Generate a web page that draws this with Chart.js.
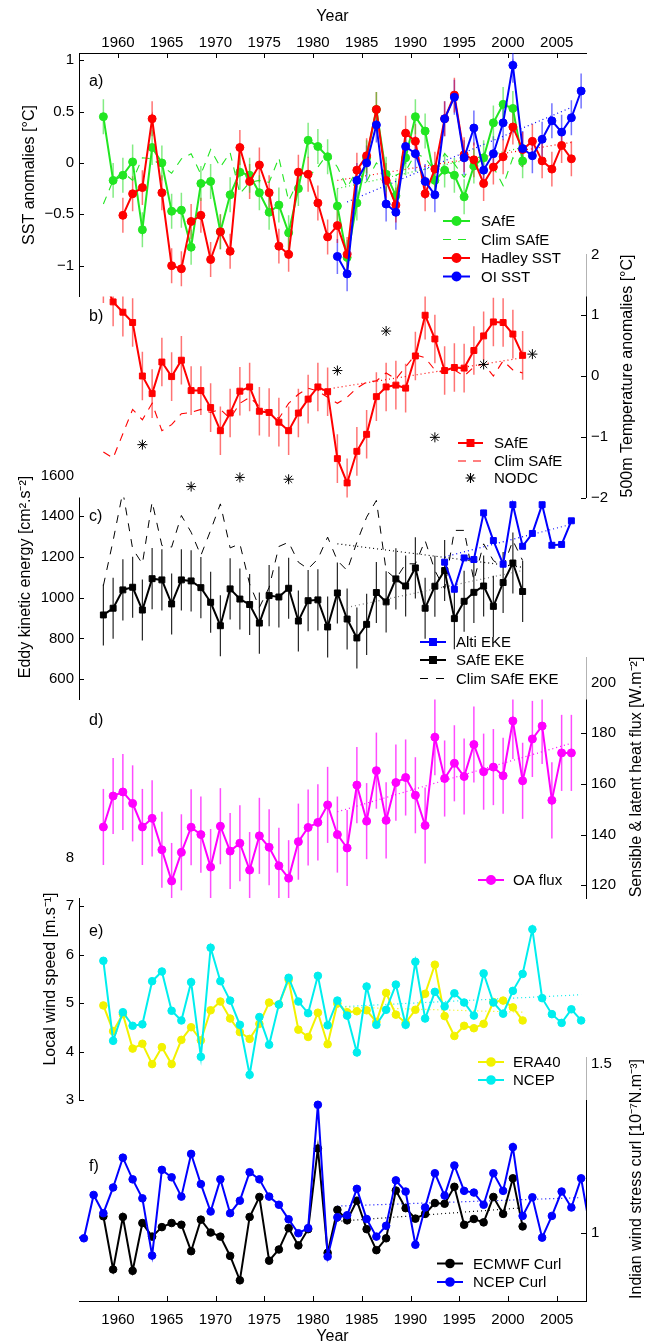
<!DOCTYPE html>
<html>
<head>
<meta charset="utf-8">
<script src="https://cdn.jsdelivr.net/npm/chart.js@4.4.1/dist/chart.umd.min.js"></script>
<style>
  html, body { margin: 0; padding: 0; background: #fff; overflow: hidden; }
  #wrap { position: relative; width: 654px; height: 1343px; }
  #wrap canvas { position: absolute; left: 0; top: 0; }
</style>
</head>
<body>
<div id="wrap"></div>
<script>
// ---- data (annual values, plotted at mid-year) ----
var xTicks = [1960, 1965, 1970, 1975, 1980, 1985, 1990, 1995, 2000, 2005];

// a) SST anomalies
var sstSafe = [0.45, -0.17, -0.12, 0.01, -0.65, 0.15, 0.0, -0.47, -0.46, -0.82, -0.2, -0.18, -0.67, -0.31, -0.09, -0.12, -0.29, -0.48, -0.41, -0.68, -0.25, 0.22, 0.16, 0.06, -0.42, -0.92, -0.39, 0.05, 0.52, -0.11, -0.32, 0.05, 0.45, 0.31, -0.17, -0.07, -0.12, -0.33, -0.03, 0.05, 0.39, 0.57, 0.53, 0.02];
var sstClim = [-0.4, -0.17, -0.09, -0.17, 0.05, 0.04, -0.03, -0.1, 0.04, 0.09, -0.11, 0.13, -0.04, 0.1, -0.3, -0.19, -0.17, -0.19, 0.05, -0.37, -0.17, -0.14, -0.04, 0.09, -0.04, -0.24, -0.07, -0.18, 0.0, -0.1, -0.12, -0.08, 0.09, 0.05, -0.08, 0.09, -0.01, -0.14, 0.02, 0.05, -0.04, -0.22, 0.05, -0.04];
var sstHadley = [-0.51, -0.3, -0.24, 0.43, -0.29, -1.0, -1.03, -0.57, -0.51, -0.94, -0.67, -0.86, 0.15, -0.18, -0.02, -0.29, -0.81, -0.89, -0.09, -0.11, -0.39, -0.72, -0.61, -0.89, -0.07, 0.07, 0.52, -0.17, -0.41, 0.29, 0.21, -0.3, -0.06, 0.43, 0.66, 0.08, 0.03, -0.2, -0.04, 0.06, 0.35, 0.13, 0.21, 0.02, -0.06, 0.17, 0.04];
var sstOi = [-0.91, -1.08, -0.17, 0.0, 0.37, -0.4, -0.48, 0.16, 0.09, -0.18, -0.31, 0.43, 0.64, 0.05, 0.34, -0.07, 0.09, 0.39, 0.95, 0.14, 0.07, 0.23, 0.41, 0.3, 0.44, 0.7];
var sstErr = 0.17;
var trendSafeA = [[1982.5, -0.25], [2001.5, 0.15]];
var trendHadley = [[1982.5, -0.17], [2006.5, 0.2]];
var trendOi = [[1983.5, -0.38], [2006.5, 0.54]];

// b) 500m temperature anomalies
var t500Safe = [1.6, 1.22, 1.05, 0.88, 0.0, -0.29, 0.23, -0.01, 0.26, -0.24, -0.24, -0.52, -0.9, -0.61, -0.25, -0.18, -0.58, -0.6, -0.76, -0.9, -0.61, -0.38, -0.18, -0.26, -1.36, -1.76, -1.24, -0.96, -0.34, -0.18, -0.15, -0.2, 0.33, 1.0, 0.61, 0.09, 0.14, 0.13, 0.42, 0.66, 0.89, 0.88, 0.69, 0.34];
var t500Clim = [-1.25, -1.35, -0.95, -0.55, -0.72, -0.45, -0.9, -0.8, -0.62, -0.6, -0.55, -0.6, -0.55, -0.7, -0.45, -0.35, -0.5, -0.6, -0.7, -0.45, -0.3, -0.2, -0.25, -0.35, -0.45, -0.35, -0.2, -0.1, -0.08, 0.05, -0.05, 0.15, 0.35, 0.3, 0.1, 0.05, 0.1, 0.0, 0.15, 0.2, 0.0, 0.25, 0.1, 0.05];
var nodcYears = [1962.5, 1967.5, 1972.5, 1977.5, 1982.5, 1987.5, 1992.5, 1997.5, 2002.5];
var nodcTemp = [-1.13, -1.82, -1.67, -1.7, 0.09, 0.74, -1.01, 0.19, 0.36];
var t500Err = 0.4;
var trendT500 = [[1980.5, -0.24], [2001.5, 0.3]];

// c) eddy kinetic energy
var ekeAlti = [1174, 1041, 1195, 1187, 1416, 1280, 1164, 1456, 1252, 1315, 1456, 1257, 1261, 1377];
var ekeSafe = [915, 948, 1038, 1051, 939, 1093, 1087, 969, 1087, 1082, 1049, 977, 862, 1043, 993, 966, 875, 1010, 1003, 1046, 885, 985, 989, 856, 1023, 895, 802, 869, 1025, 979, 1092, 1057, 1146, 948, 1056, 1133, 897, 982, 1026, 1057, 957, 1074, 1170, 1030];
var ekeClim = [1059, 1280, 1520, 1240, 1166, 1470, 1256, 1248, 1403, 1321, 1207, 1330, 1460, 1244, 1264, 1067, 952, 1050, 1251, 1272, 1174, 1141, 1190, 1297, 1182, 1133, 1272, 1395, 1477, 1133, 1092, 1166, 1166, 1280, 1133, 1043, 1330, 1330, 1084, 1264, 1182, 1149, 1280, 1182];
var ekeErr = 150;
var trendEkeClim = [[1982.5, 1264], [2001.5, 1149]];
var trendEkeSafe = [[1983.5, 952], [2001.5, 1133]];
var trendEkeAlti = [[1993.5, 1200], [2006.5, 1360]];

// d) OA heat flux
var oaFlux = [143.0, 155.2, 156.8, 152.3, 143.0, 146.4, 134.0, 121.7, 133.0, 142.9, 140.0, 127.2, 143.3, 133.5, 136.6, 126.0, 139.5, 135.0, 127.7, 122.8, 137.2, 142.8, 144.8, 151.7, 140.0, 134.7, 159.5, 145.3, 165.2, 145.6, 160.5, 162.5, 155.5, 143.6, 178.4, 162.1, 168.1, 162.9, 175.5, 164.8, 166.6, 163.2, 184.8, 161.2, 177.7, 182.8, 153.5, 172.2, 172.2];
var oaErr = 15;
var trendOa = [[1982.5, 149], [2006.5, 176]];

// e) local wind speed
var windEra40 = [4.95, 4.42, 4.77, 4.06, 4.16, 3.74, 4.09, 3.74, 4.24, 4.5, 4.23, 4.85, 5.03, 4.68, 4.4, 4.26, 4.57, 5.01, 4.97, 5.48, 4.45, 4.3, 4.8, 4.15, 4.99, 4.81, 4.83, 4.85, 4.61, 5.21, 4.76, 4.59, 4.86, 5.19, 5.79, 4.73, 4.32, 4.53, 4.48, 4.57, 5.02, 5.05, 4.91, 4.64];
var windNcep = [5.87, 4.22, 4.81, 4.53, 4.56, 5.45, 5.65, 4.84, 4.64, 5.43, 3.89, 6.14, 5.45, 5.05, 4.55, 3.52, 4.71, 4.14, 4.97, 5.52, 5.03, 4.79, 5.56, 4.54, 5.05, 4.74, 3.98, 5.34, 4.55, 4.86, 5.38, 4.55, 5.85, 4.68, 5.23, 4.93, 5.2, 5.01, 4.74, 5.61, 5.01, 4.78, 5.25, 5.6, 6.52, 5.1, 4.77, 4.59, 4.87, 4.64];
var trendEra40 = [[1982.5, 4.92], [2001.5, 4.81]];
var trendNcepW = [[1982.5, 4.92], [2007.5, 5.17]];

// f) wind stress curl
var curlEcmwf = [1.05, 0.893, 1.048, 0.889, 1.03, 0.99, 1.018, 1.03, 1.025, 0.947, 1.04, 1.002, 0.99, 0.933, 0.861, 1.048, 1.107, 0.919, 0.952, 1.015, 0.964, 1.012, 1.25, 0.942, 1.069, 1.038, 1.096, 1.012, 0.95, 0.985, 1.126, 1.074, 1.043, 1.057, 1.089, 1.087, 1.137, 1.025, 1.042, 1.032, 1.107, 1.057, 1.162, 1.02];
var curlNcep = [0.99, 0.985, 1.113, 1.059, 1.135, 1.223, 1.159, 1.103, 0.934, 1.187, 1.165, 1.108, 1.234, 1.145, 1.064, 1.159, 1.059, 1.096, 1.18, 1.159, 1.108, 1.084, 1.041, 1.0, 1.015, 1.379, 0.931, 1.047, 1.053, 1.131, 1.042, 0.99, 1.022, 1.156, 1.123, 0.966, 1.076, 1.177, 1.111, 1.2, 1.125, 1.12, 1.084, 1.177, 1.125, 1.254, 1.051, 1.106, 0.987, 1.051, 1.123, 1.076, 1.162, 1.0];
var trendEcmwf = [[1982.5, 1.035], [2001.5, 1.075]];
var trendNcepC = [[1982.5, 1.08], [2007.5, 1.105]];

// ---- helpers ----
function pts(x0, vals) { return vals.map(function (v, i) { return { x: x0 + i, y: v }; }); }
function pairs(list) { return list.map(function (p) { return { x: p[0], y: p[1] }; }); }
function minus(v) { return String(v).replace('-', '\u2212'); }

var GREEN = '#22e622', RED = '#ff0000', BLUE = '#0000ff', MAG = '#ff00ff', YEL = '#f2f200', CYAN = '#00eeee';
var FONT = "'Liberation Sans', Arial, Helvetica, sans-serif";
Chart.defaults.font.family = FONT;
Chart.defaults.font.size = 15;
Chart.defaults.color = '#000';

function series(label, data, color, opt) {
    opt = opt || {};
    return {
        label: label, data: data, borderColor: color, backgroundColor: color,
        pointBackgroundColor: color, pointBorderColor: color,
        borderWidth: opt.width || 2, borderDash: opt.dash || [],
        pointRadius: opt.radius === undefined ? 4 : opt.radius,
        pointStyle: opt.style || 'circle', pointBorderWidth: 1,
        showLine: opt.noLine ? false : true, tension: 0, fill: false,
        order: opt.order || 5, err: opt.err, errColor: opt.errColor, errWidth: opt.errWidth
    };
}
function dotted(data, color) {
    return series('', pairs(data), color, { width: 1.2, dash: [1, 3], radius: 0, order: 9 });
}

var extras = {};

var panelPlugin = {
    id: 'panelExtras',
    beforeDraw: function (chart) {
        // white box hides the top of the panel underneath; the edges only half hide its axis line
        var a = chart.chartArea, ctx = chart.ctx, h = a.bottom - a.top;
        ctx.save();
        ctx.fillStyle = '#fff';
        ctx.fillRect(a.left, a.top, a.right - a.left, h);
        ctx.fillStyle = 'rgba(255,255,255,0.7)';
        ctx.fillRect(a.left - 1.5, a.top, 1.5, h);
        ctx.fillRect(a.right, a.top, 1.5, h);
        ctx.restore();
    },
    beforeDatasetsDraw: function (chart) {
        var a = chart.chartArea, ctx = chart.ctx, xs = chart.scales.x, ys = chart.scales.y;
        ctx.save();
        ctx.beginPath();
        ctx.rect(a.left, a.top, a.right - a.left, a.bottom - a.top);
        ctx.clip();
        chart.data.datasets.forEach(function (ds) {
            if (ds.err === undefined) { return; }
            ctx.strokeStyle = ds.errColor;
            ctx.lineWidth = ds.errWidth || 1.5;
            ds.data.forEach(function (p) {
                var x = xs.getPixelForValue(p.x);
                ctx.beginPath();
                ctx.moveTo(x, ys.getPixelForValue(p.y - ds.err));
                ctx.lineTo(x, ys.getPixelForValue(p.y + ds.err));
                ctx.stroke();
            });
        });
        ctx.restore();
    },
    afterDraw: function (chart) {
        var ex = extras[chart.canvas.id], ctx = chart.ctx, a = chart.chartArea;
        ctx.save();
        // inward tick marks
        ctx.strokeStyle = '#000';
        ctx.lineWidth = 1;
        ['x', 'y'].forEach(function (k) {
            var s = chart.scales[k];
            if (!s.options.display) { return; }
            s.ticks.forEach(function (t) {
                var p = Math.round(s.getPixelForValue(t.value)) + 0.5;
                ctx.beginPath();
                if (k === 'y') {
                    var x0 = s.position === 'left' ? a.left : a.right;
                    var dir = s.position === 'left' ? 5 : -5;
                    ctx.moveTo(x0, p); ctx.lineTo(x0 + dir, p);
                } else {
                    var y0 = s.position === 'top' ? a.top : a.bottom;
                    var d = s.position === 'top' ? 5 : -5;
                    ctx.moveTo(p, y0); ctx.lineTo(p, y0 + d);
                }
                ctx.stroke();
            });
        });
        // legend
        var lg = ex.legend;
        ctx.font = '15px ' + FONT;
        ctx.textBaseline = 'middle';
        ctx.textAlign = 'left';
        lg.labels.forEach(function (name, i) {
            var ds = chart.data.datasets.filter(function (d) { return d.label === name; })[0];
            var y = lg.ys[i];
            ctx.strokeStyle = ds.borderColor;
            ctx.fillStyle = ds.backgroundColor;
            if (ds.showLine) {
                ctx.lineWidth = ds.borderWidth;
                ctx.setLineDash(ds.borderDash);
                ctx.beginPath(); ctx.moveTo(lg.x1, y); ctx.lineTo(lg.x2, y); ctx.stroke();
                ctx.setLineDash([]);
            }
            if (ds.pointRadius > 0) {
                Chart.helpers.drawPoint(ctx, { pointStyle: ds.pointStyle, radius: ds.pointRadius, rotation: 0, borderWidth: ds.pointBorderWidth }, (lg.x1 + lg.x2) / 2, y);
            }
            ctx.fillStyle = '#000';
            ctx.fillText(name, lg.tx, y + 1);
        });
        // titles and panel letters
        ex.texts.forEach(function (t) {
            ctx.save();
            ctx.font = (t.size || 16) + 'px ' + FONT;
            ctx.fillStyle = '#000';
            ctx.textAlign = t.align || 'center';
            ctx.textBaseline = 'middle';
            ctx.translate(t.x, t.y);
            if (t.rot) { ctx.rotate(t.rot * Math.PI / 180); }
            ctx.fillText(t.text, 0, 0);
            ctx.restore();
        });
        ctx.restore();
    }
};

function makePanel(p) {
    var cv = document.createElement('canvas');
    cv.id = 'panel-' + p.id;
    cv.width = 654; cv.height = 1343;
    cv.style.zIndex = p.z;
    document.getElementById('wrap').appendChild(cv);
    extras[cv.id] = { legend: p.legend, texts: p.texts };
    var left = p.side === 'left';
    var pad = {
        top: p.xPos === 'top' ? 0 : p.top,
        bottom: p.xPos === 'bottom' ? 0 : 1343 - p.bottom,
        left: left ? 0 : 79,
        right: left ? 68 : 0
    };
    return new Chart(cv, {
        type: 'line',
        data: { datasets: p.datasets },
        plugins: [panelPlugin],
        options: {
            responsive: false, animation: false, devicePixelRatio: 1, events: [],
            layout: { padding: pad },
            plugins: { legend: { display: false }, tooltip: { enabled: false } },
            scales: {
                x: {
                    type: 'linear', min: 1956, max: 2008,
                    position: p.xPos || 'bottom', display: !!p.xPos,
                    grid: { display: false, drawTicks: false },
                    border: { display: true, color: '#000', width: 1 },
                    ticks: { autoSkip: false, maxRotation: 0, padding: p.xPos === 'top' ? 1 : 10, callback: function (v) { return String(v); } },
                    afterBuildTicks: function (s) { s.ticks = xTicks.map(function (v) { return { value: v }; }); },
                    afterFit: function (s) {
                        if (p.xPos === 'top') { s.height = p.top; }
                        else if (p.xPos === 'bottom') { s.height = 1343 - p.bottom; }
                        else { s.height = 0; }
                    }
                },
                y: {
                    type: 'linear', min: p.min, max: p.max, position: p.side,
                    grid: { display: false, drawTicks: false },
                    border: { display: true, color: '#000', width: 1 },
                    ticks: { autoSkip: false, padding: 5, callback: function (v) { return minus(v); } },
                    afterBuildTicks: function (s) { s.ticks = p.yTicks.map(function (v) { return { value: v }; }); },
                    afterFit: function (s) { s.width = left ? 79 : 68; }
                }
            }
        }
    });
}

// ---- panels (upper panels drawn over the top of the lower ones) ----
makePanel({
    id: 'a', z: 6, side: 'left', top: 53, bottom: 296.5, min: -1.3, max: 1.07, xPos: 'top',
    yTicks: [-1, -0.5, 0, 0.5, 1],
    datasets: [
        series('OI SST', pts(1982.5, sstOi), BLUE, { order: 1, err: sstErr, errColor: 'rgba(0,0,255,0.55)' }),
        series('Hadley SST', pts(1960.5, sstHadley), RED, { order: 2, err: sstErr, errColor: 'rgba(255,0,0,0.55)' }),
        series('Clim SAfE', pts(1958.5, sstClim), GREEN, { order: 3, width: 1.1, dash: [8, 7], radius: 0 }),
        series('SAfE', pts(1958.5, sstSafe), GREEN, { order: 4, err: sstErr, errColor: 'rgba(30,220,30,0.55)' }),
        dotted(trendSafeA, GREEN), dotted(trendHadley, RED), dotted(trendOi, BLUE)
    ],
    legend: { labels: ['SAfE', 'Clim SAfE', 'Hadley SST', 'OI SST'], ys: [221, 239.5, 258, 276.5], x1: 443, x2: 470, tx: 481 },
    texts: [
        { text: 'Year', x: 332.5, y: 17 },
        { text: 'a)', x: 89, y: 82, align: 'left' },
        { text: 'SST anomalies [\u00B0C]', x: 30, y: 175, rot: -90 }
    ]
});

makePanel({
    id: 'b', z: 5, side: 'right', top: 254.5, bottom: 497.5, min: -2, max: 2,
    yTicks: [-2, -1, 0, 1, 2],
    datasets: [
        series('NODC', pairs(nodcYears.map(function (y, i) { return [y, nodcTemp[i]]; })), '#000', { order: 1, noLine: true, style: 'star', radius: 5 }),
        series('SAfE', pts(1958.5, t500Safe), RED, { order: 2, style: 'rect', radius: 4.2, err: t500Err, errColor: 'rgba(255,0,0,0.55)' }),
        series('Clim SAfE', pts(1958.5, t500Clim), RED, { order: 3, width: 1.1, dash: [8, 7], radius: 0 }),
        dotted(trendT500, RED)
    ],
    legend: { labels: ['SAfE', 'Clim SAfE', 'NODC'], ys: [443, 461, 478], x1: 458, x2: 483, tx: 494 },
    texts: [
        { text: 'b)', x: 89, y: 317, align: 'left' },
        { text: '500m Temperature anomalies [\u00B0C]', x: 628, y: 376, rot: -90 }
    ]
});

makePanel({
    id: 'c', z: 4, side: 'left', top: 455, bottom: 699.5, min: 500, max: 1700,
    yTicks: [600, 800, 1000, 1200, 1400, 1600],
    datasets: [
        series('Alti EKE', pts(1993.5, ekeAlti), BLUE, { order: 1, style: 'rect', radius: 4.2 }),
        series('SAfE EKE', pts(1958.5, ekeSafe), '#000', { order: 2, style: 'rect', radius: 4.2, err: ekeErr, errColor: 'rgba(0,0,0,0.85)', errWidth: 1.2 }),
        series('Clim SAfE EKE', pts(1958.5, ekeClim), '#000', { order: 3, width: 1, dash: [8, 8], radius: 0 }),
        dotted(trendEkeClim, '#000'), dotted(trendEkeSafe, '#777'), dotted(trendEkeAlti, BLUE)
    ],
    legend: { labels: ['Alti EKE', 'SAfE EKE', 'Clim SAfE EKE'], ys: [642, 660, 678.5], x1: 420, x2: 446, tx: 456 },
    texts: [
        { text: 'c)', x: 89, y: 517, align: 'left' },
        { text: 'Eddy kinetic energy [cm\u00B2.s\u207B\u00B2]', x: 26, y: 577, rot: -90 }
    ]
});

makePanel({
    id: 'd', z: 3, side: 'right', top: 657, bottom: 898, min: 115, max: 210,
    yTicks: [120, 140, 160, 180, 200],
    datasets: [
        series('OA flux', pts(1958.5, oaFlux), MAG, { order: 1, err: oaErr, errColor: 'rgba(255,0,255,0.7)' }),
        dotted(trendOa, MAG)
    ],
    legend: { labels: ['OA flux'], ys: [880], x1: 478, x2: 504, tx: 513 },
    texts: [
        { text: 'd)', x: 89, y: 721, align: 'left' },
        { text: 'Sensible & latent heat flux [W.m\u207B\u00B2]', x: 637, y: 777, rot: -90 }
    ]
});

makePanel({
    id: 'e', z: 2, side: 'left', top: 857.5, bottom: 1100, min: 3, max: 8,
    yTicks: [3, 4, 5, 6, 7, 8],
    datasets: [
        series('NCEP', pts(1958.5, windNcep), CYAN, { order: 1, radius: 3.8 }),
        series('ERA40', pts(1958.5, windEra40), YEL, { order: 2, radius: 3.8 }),
        dotted(trendEra40, YEL), dotted(trendNcepW, CYAN)
    ],
    legend: { labels: ['ERA40', 'NCEP'], ys: [1062, 1080], x1: 478, x2: 504, tx: 513 },
    texts: [
        { text: 'e)', x: 89, y: 932, align: 'left' },
        { text: 'Local wind speed [m.s\u207B\u00B9]', x: 51, y: 979, rot: -90 }
    ]
});

makePanel({
    id: 'f', z: 1, side: 'right', top: 1057, bottom: 1301, min: 0.8, max: 1.52, xPos: 'bottom',
    yTicks: [1, 1.5],
    datasets: [
        series('NCEP Curl', pts(1955.5, curlNcep), BLUE, { order: 1, radius: 3.8 }),
        series('ECMWF Curl', pts(1958.5, curlEcmwf), '#000', { order: 2, radius: 3.8 }),
        dotted(trendEcmwf, '#000'), dotted(trendNcepC, BLUE)
    ],
    legend: { labels: ['ECMWF Curl', 'NCEP Curl'], ys: [1263.5, 1282], x1: 437, x2: 463, tx: 473 },
    texts: [
        { text: 'f)', x: 89, y: 1167, align: 'left' },
        { text: 'Year', x: 332.5, y: 1337 },
        { text: 'Indian wind stress curl [10\u207B\u2077N.m\u207B\u00B3]', x: 637, y: 1179, rot: -90 }
    ]
});
</script>
</body>
</html>
